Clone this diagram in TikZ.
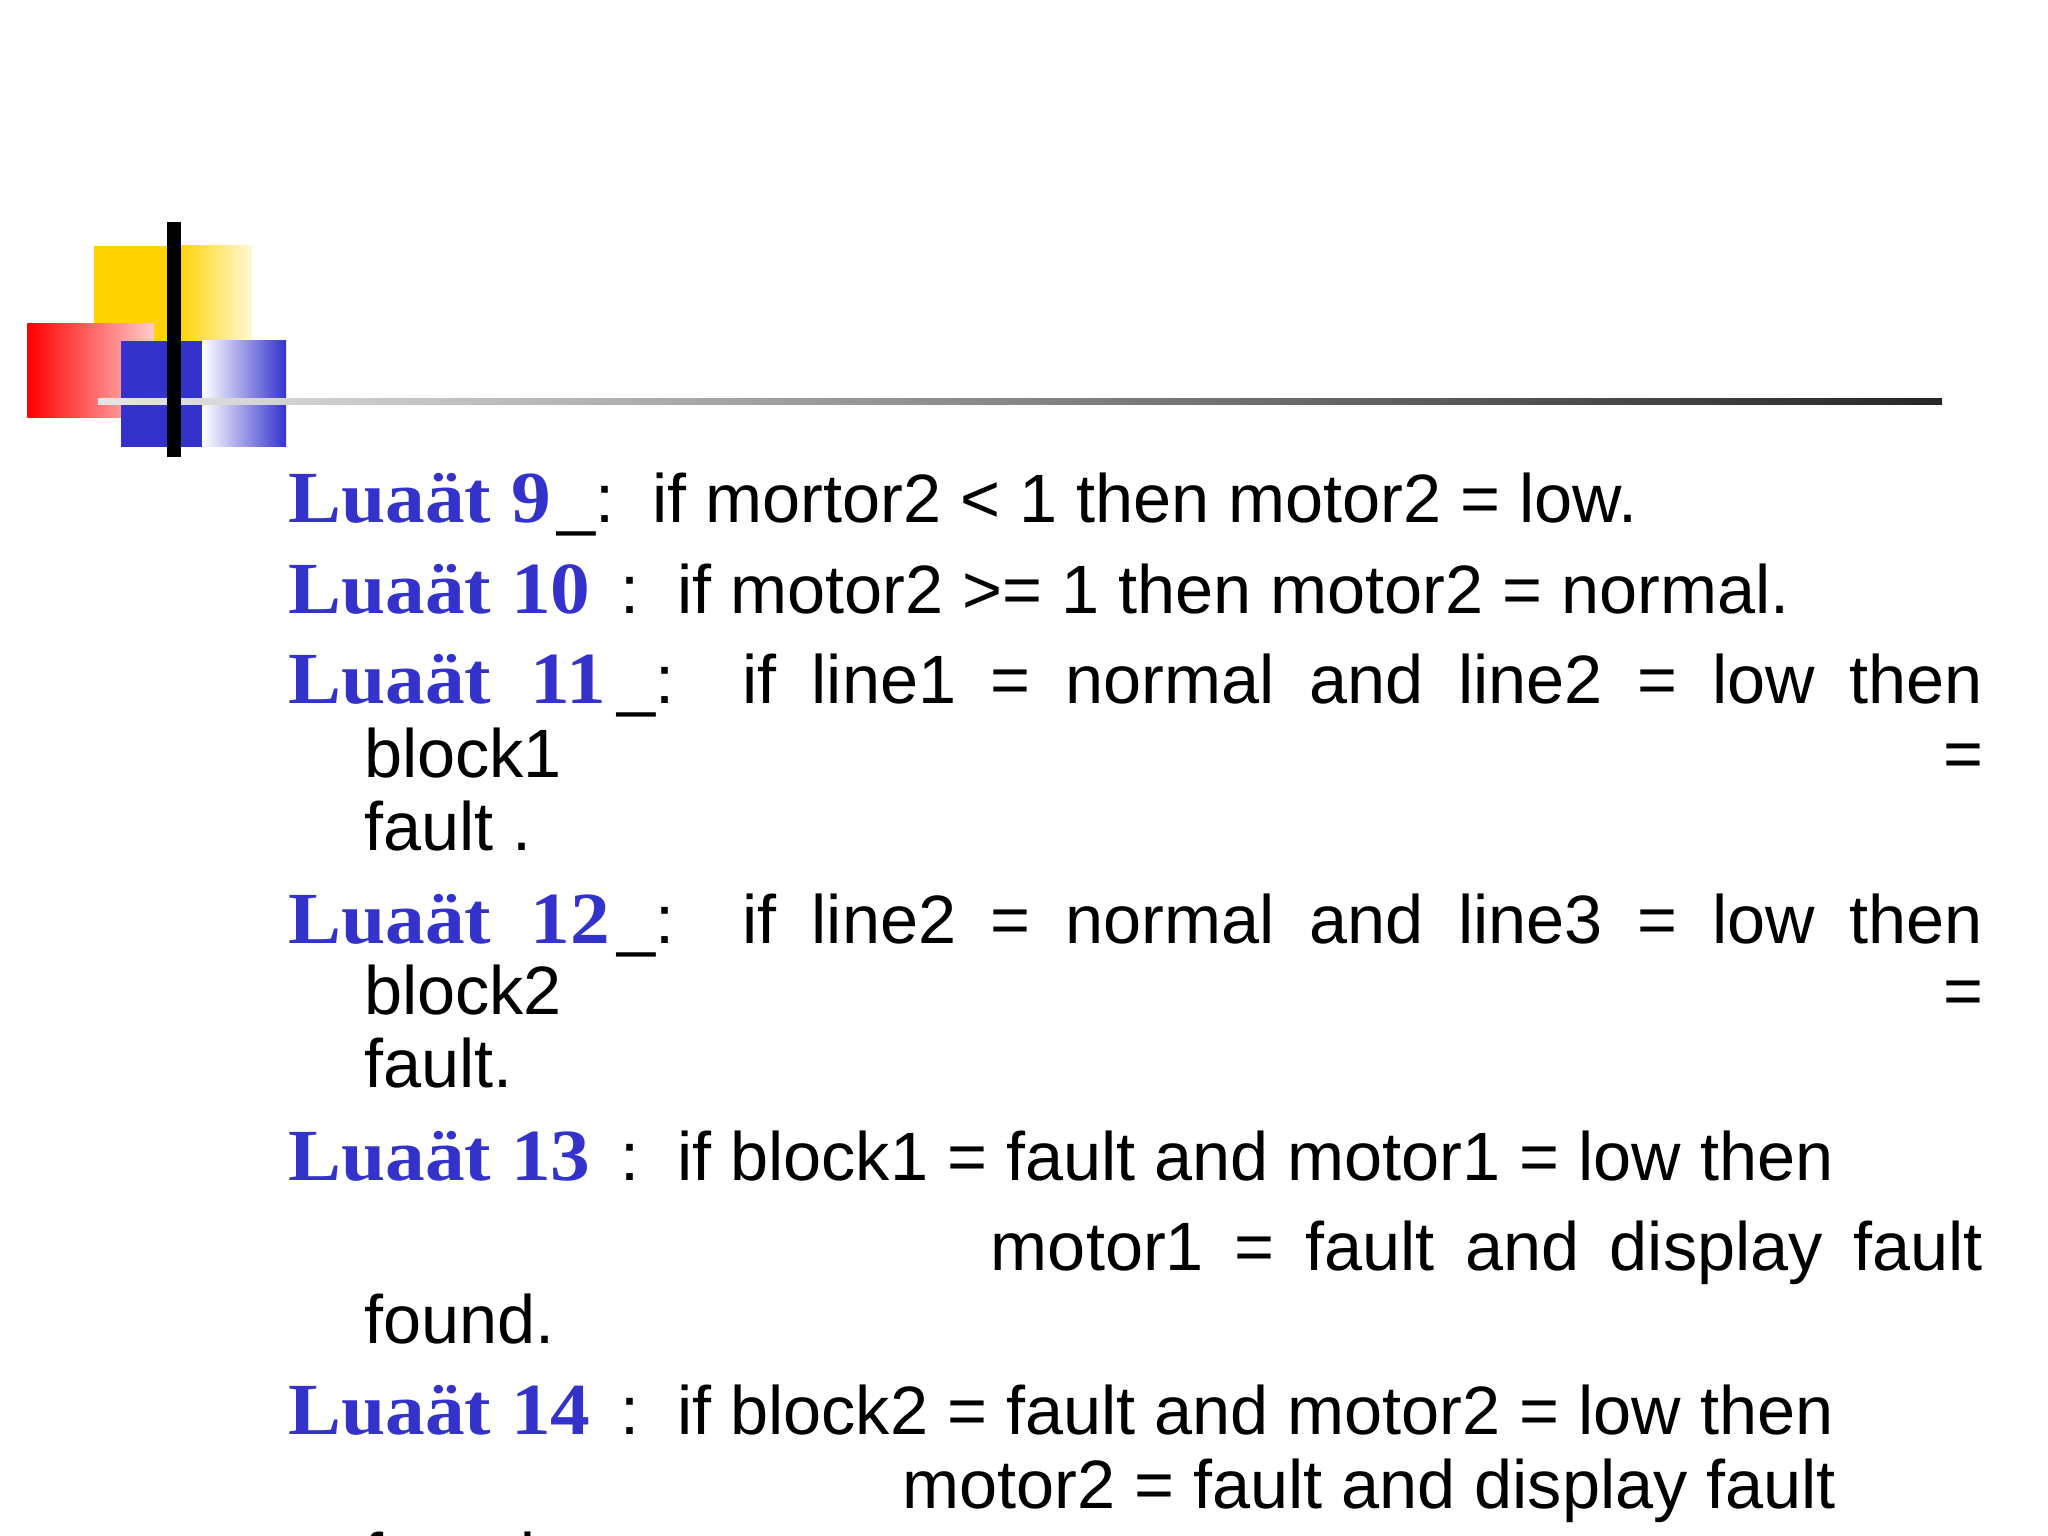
\documentclass[tikz,border=0pt]{standalone}
\usepackage{fontspec}
\setmainfont{Liberation Sans}
\newfontfamily\lblfont{Liberation Serif}
\definecolor{lblblue}{RGB}{51,51,204}
\definecolor{logoblue}{RGB}{51,51,204}
\definecolor{logoyel}{RGB}{255,210,0}
\begin{document}
\begin{tikzpicture}[x=0.01cm,y=-0.01cm,
  lbl/.style={anchor=base west,inner sep=0,font=\lblfont\bfseries\fontsize{16}{19}\selectfont,text=lblblue,xscale=1.08},
  txt/.style={anchor=base west,inner sep=0,font=\fontsize{14.9}{18}\selectfont}]
\clip (0,0) rectangle (1568,1176);
\fill[white] (0,0) rectangle (1568,1176);
% logo
\fill[logoyel] (72,188) rectangle (135,262);
\shade[left color=logoyel,right color=logoyel!15] (135,188) rectangle (193,262);
\shade[left color=red,right color=red!20] (21,248) rectangle (118,320);
\fill[logoblue] (93,261) rectangle (155,342);
\shade[left color=white,right color=logoblue] (155,261) rectangle (219,342);
\shade[left color=white!90!black,right color=black!85] (75,305) rectangle (1487,310);
\draw[line width=3pt] (133,170) -- (133,350);
% lines
\node[lbl] (l9) at (220,400) {Luaät 9};
\node[txt] (t9) at (426,400) {\_:\ \ if mortor2 < 1 then motor2 = low.};
\node[lbl] (l10) at (220,470) {Luaät 10};
\node[txt] (t10) at (474,470) {:\ \ if motor2 >= 1 then motor2 = normal.};
\node[lbl] (l11) at (220,539) {Luaät\ \ 11};
\node[txt] (u11) at (472,539) {\_:};
\node[txt] (t11b) at (568,539) {\makebox[9.49cm][s]{if line1 = normal and line2 = low then}};
\node[txt] (t11c) at (278,595) {\makebox[12.39cm][s]{block1 \hfill =}};
\node[txt] (t11d) at (278,651) {fault .};
\node[lbl] (l12) at (220,722) {Luaät\ \ 12};
\node[txt] (u12) at (472,722) {\_:};
\node[txt] (t12) at (568,722) {\makebox[9.49cm][s]{if line2 = normal and line3 = low then}};
\node[txt] (t12c) at (278,777) {\makebox[12.39cm][s]{block2 \hfill =}};
\node[txt] (t12d) at (278,833) {fault.};
\node[lbl] (l13) at (220,904) {Luaät 13};
\node[txt] (t13) at (474,904) {:\ \ if block1 = fault and motor1 = low then};
\node[txt] (t13b) at (758,973) {\makebox[7.59cm][s]{motor1 = fault and display fault}};
\node[txt] (t13c) at (278,1029) {found.};
\node[lbl] (l14) at (220,1098) {Luaät 14};
\node[txt] (t14) at (474,1098) {:\ \ if block2 = fault and motor2 = low then};
\node[txt] (t14b) at (690,1155) {motor2 = fault and display fault};
\node[txt] (t14c) at (278,1211) {found.};
\end{tikzpicture}
\end{document}
